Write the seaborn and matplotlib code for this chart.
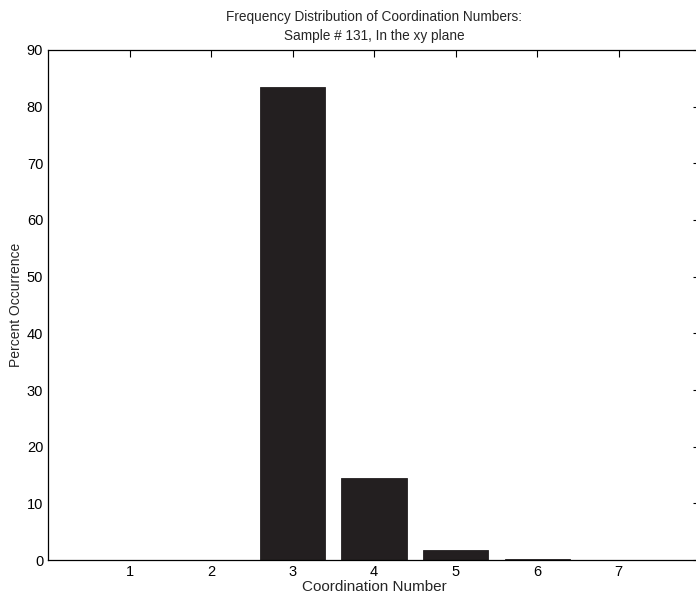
import matplotlib

matplotlib.use('Agg')
import matplotlib.pyplot as plt
import seaborn as sns
import pandas as pd

# 数据：配位数及其出现百分比
coord_numbers = [1, 2, 3, 4, 5, 6, 7]
percent_occurrence = [0.0, 0.0, 83.5, 14.5, 1.7, 0.25, 0.0]

sns.set_style('white')
plt.rcParams['font.family'] = ['Liberation Sans', 'DejaVu Sans']

df = pd.DataFrame({'coord': coord_numbers, 'pct': percent_occurrence})

fig = plt.figure(figsize=(6.96, 6.01), dpi=100)
ax = fig.add_axes([0.069, 0.068, 0.937, 0.849])

sns.barplot(data=df, x='coord', y='pct', native_scale=True, color='#231f20',
            saturation=1, width=0.8, edgecolor='#231f20', linewidth=0.6, ax=ax)

ax.set_xlim(0, 8)
ax.set_ylim(0, 90)
ax.set_xticks(coord_numbers)
ax.set_yticks(range(0, 91, 10))
ax.tick_params(direction='in', top=True, right=True, length=5, width=0.8,
               labelsize=10.5, colors='black')
for s in ax.spines.values():
    s.set_color('black')
    s.set_linewidth(0.9)

ax.set_xlabel('Coordination Number', fontsize=11, labelpad=1)
ax.set_ylabel('Percent Occurrence', fontsize=10, labelpad=3)
ax.set_title('Frequency Distribution of Coordination Numbers:\nSample # 131, In the xy plane',
             fontsize=9.8, pad=7, linespacing=1.45)

fig.savefig('out.png', dpi=100)
